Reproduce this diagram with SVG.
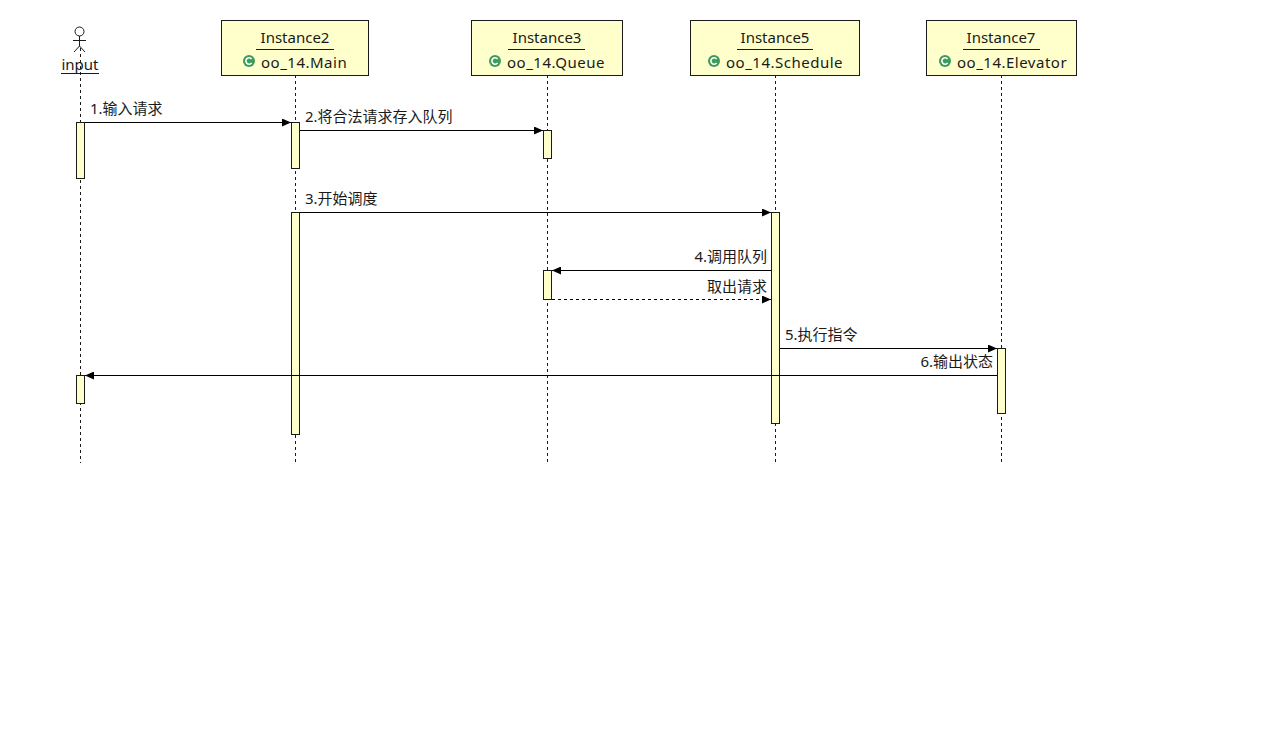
<svg xmlns="http://www.w3.org/2000/svg" width="1266" height="743" viewBox="0 0 1266 743">
<style>
text{font-family:"Noto Sans","Noto Sans CJK SC","Liberation Sans",sans-serif;font-size:15px;fill:#1a1a1a}
.cls{letter-spacing:0.5px}
.box{fill:#ffffcc;stroke:#1a1a1a;stroke-width:1}
.act{fill:#ffffcc;stroke:#1a1a1a;stroke-width:1}
.life{stroke:#1a1a1a;stroke-width:1;stroke-dasharray:3,3;fill:none}
.msg{stroke:#000;stroke-width:1;fill:none}
.ret{stroke:#000;stroke-width:1;fill:none;stroke-dasharray:3,3}
.ul{stroke:#1a1a1a;stroke-width:1}
.mid{text-anchor:middle}
.end{text-anchor:end}
</style>
<defs>
<marker id="ah" markerWidth="9" markerHeight="8" refX="9" refY="4" orient="auto" markerUnits="userSpaceOnUse">
<path d="M0,0 L9,4 L0,8 Z" fill="#000"/>
</marker>
<g id="icon">
<circle cx="0" cy="0" r="6" fill="#3d9b5c"/>
<path d="M2.6,-2 A3.2,3.2 0 1 0 2.6,2" stroke="#fff" stroke-width="1.6" fill="none"/>
</g>
</defs>
<rect width="1266" height="743" fill="#fff"/>

<g id="lifelines">
<line class="life" x1="80.5" y1="48" x2="80.5" y2="463"/>
<line class="life" x1="295.5" y1="75" x2="295.5" y2="463"/>
<line class="life" x1="547.5" y1="75" x2="547.5" y2="463"/>
<line class="life" x1="775.5" y1="75" x2="775.5" y2="463"/>
<line class="life" x1="1001.5" y1="75" x2="1001.5" y2="463"/>
</g>

<g id="actor-input">
<circle cx="79.5" cy="31.5" r="4.5" fill="#fff" stroke="#1a1a1a"/>
<line class="ul" x1="79.5" y1="36" x2="79.5" y2="46"/>
<line class="ul" x1="73" y1="40.5" x2="86" y2="40.5"/>
<line class="ul" x1="79.5" y1="46" x2="74" y2="52"/>
<line class="ul" x1="79.5" y1="46" x2="85" y2="52"/>
<text class="mid" x="80" y="70">input</text>
<line class="ul" x1="61" y1="73.5" x2="99" y2="73.5"/>
</g>

<g id="instance2">
<rect class="box" x="221.5" y="20.5" width="147" height="55"/>
<text class="mid" x="295" y="43">Instance2</text>
<line class="ul" x1="256" y1="49.5" x2="334" y2="49.5"/>
<use href="#icon" x="249" y="61"/>
<text class="cls" x="261" y="68">oo_14.Main</text>
</g>

<g id="instance3">
<rect class="box" x="471.5" y="20.5" width="151" height="55"/>
<text class="mid" x="547" y="43">Instance3</text>
<line class="ul" x1="508" y1="49.5" x2="585" y2="49.5"/>
<use href="#icon" x="495" y="61"/>
<text class="cls" x="507" y="68">oo_14.Queue</text>
</g>

<g id="instance5">
<rect class="box" x="690.5" y="20.5" width="169" height="55"/>
<text class="mid" x="775" y="43">Instance5</text>
<line class="ul" x1="737" y1="49.5" x2="813" y2="49.5"/>
<use href="#icon" x="714" y="61"/>
<text class="cls" x="726" y="68">oo_14.Schedule</text>
</g>

<g id="instance7">
<rect class="box" x="926.5" y="20.5" width="150" height="55"/>
<text class="mid" x="1001" y="43">Instance7</text>
<line class="ul" x1="963" y1="49.5" x2="1040" y2="49.5"/>
<use href="#icon" x="945" y="61"/>
<text class="cls" x="957" y="68">oo_14.Elevator</text>
</g>

<g id="activations">
<rect class="act" x="76.5" y="122.5" width="8" height="56"/>
<rect class="act" x="76.5" y="375.5" width="8" height="28"/>
<rect class="act" x="291.5" y="122.5" width="8" height="46"/>
<rect class="act" x="291.5" y="212.5" width="8" height="222"/>
<rect class="act" x="543.5" y="130.5" width="8" height="28"/>
<rect class="act" x="543.5" y="270.5" width="8" height="29"/>
<rect class="act" x="771.5" y="212.5" width="8" height="211"/>
<rect class="act" x="997.5" y="348.5" width="8" height="65"/>
</g>

<g id="connectors">
<line class="msg" x1="85" y1="122.5" x2="291" y2="122.5" marker-end="url(#ah)"/>
<line class="msg" x1="300" y1="130.5" x2="543" y2="130.5" marker-end="url(#ah)"/>
<line class="msg" x1="300" y1="212.5" x2="771" y2="212.5" marker-end="url(#ah)"/>
<line class="msg" x1="771" y1="270.5" x2="552" y2="270.5" marker-end="url(#ah)"/>
<line class="ret" x1="552" y1="299.5" x2="771" y2="299.5" marker-end="url(#ah)"/>
<line class="msg" x1="780" y1="348.5" x2="997" y2="348.5" marker-end="url(#ah)"/>
<line class="msg" x1="997" y1="375.5" x2="85" y2="375.5" marker-end="url(#ah)"/>
</g>

<g id="labels">
<text x="90" y="114">1.输入请求</text>
<text x="305" y="122">2.将合法请求存入队列</text>
<text x="305" y="204">3.开始调度</text>
<text class="end" x="767" y="262">4.调用队列</text>
<text class="end" x="767" y="292">取出请求</text>
<text x="785" y="340">5.执行指令</text>
<text class="end" x="993" y="367">6.输出状态</text>
</g>
</svg>
